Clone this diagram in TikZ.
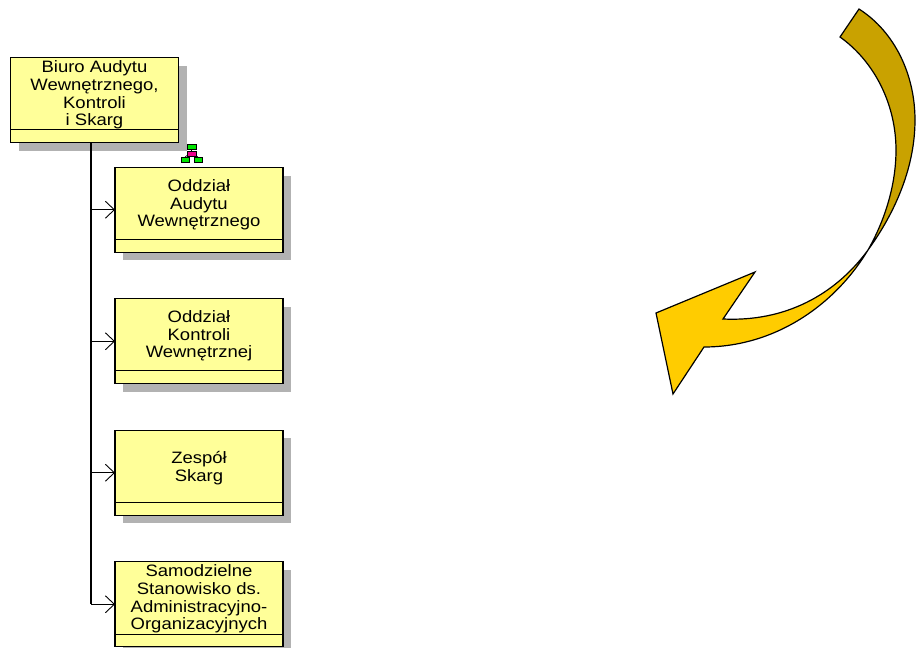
\documentclass[tikz,border=0pt]{standalone}
\usepackage{fontspec}
\setmainfont{Liberation Sans}
\newfontfamily\boxfont[FakeStretch=1.12]{Liberation Sans}
\usetikzlibrary{arrows.meta}
\tikzset{
  x=1pt,y=-1pt,
  orgbox/.style={draw=black,line width=1.4pt,fill=boxfill,minimum width=168pt,minimum height=85pt,inner sep=0pt,outer sep=0pt},
  divider/.style={draw=black,line width=0.9pt},
  boxtext/.style={align=center,font=\boxfont\fontsize{16.5}{17.6}\selectfont,inner sep=0pt,text=black},
  link/.style={draw=black,line width=1.1pt},
  trunk/.style={draw=black,line width=1.5pt},
  tip/.style={-{Straight Barb[length=9pt,width=17pt,line width=0.9pt]}},
  arrowshape/.style={draw=black,line width=1.2pt,line join=miter},
  iconbox/.style={draw=black,line width=0.4pt}
}
\definecolor{boxfill}{HTML}{FFFF99}
\definecolor{shadowgray}{HTML}{B2B2B2}
\definecolor{arrowdark}{HTML}{C9A200}
\definecolor{arrowlight}{HTML}{FFCC00}
\begin{document}
\begin{tikzpicture}
\useasboundingbox (0,0) rectangle (922,648);
% shadows
\fill[shadowgray] (19,66) rectangle (187,151);
\fill[shadowgray] (123,176) rectangle (291,260);
\fill[shadowgray] (123,307) rectangle (291,392);
\fill[shadowgray] (123,438) rectangle (291,523);
\fill[shadowgray] (123,570) rectangle (291,650);
% boxes
\node[orgbox] (b0) at (94.5,100) {};
\node[orgbox] (b1) at (199,209.75) {};
\node[orgbox] (b2) at (199,341.25) {};
\node[orgbox] (b3) at (199,472.75) {};
\node[orgbox] (b4) at (199,604.25) {};
% dividers
\coordinate (d0) at (0,129.5);
\coordinate (d1) at (0,239.5);
\coordinate (d2) at (0,370.5);
\coordinate (d3) at (0,502);
\coordinate (d4) at (0,634);
\draw[divider] (b0.west |- d0) -- (b0.east |- d0);
\draw[divider] (b1.west |- d1) -- (b1.east |- d1);
\draw[divider] (b2.west |- d2) -- (b2.east |- d2);
\draw[divider] (b3.west |- d3) -- (b3.east |- d3);
\draw[divider] (b4.west |- d4) -- (b4.east |- d4);
% texts
\node[boxtext] (t0) at (94.5,95) {Biuro Audytu\\Wewnętrznego,\\Kontroli\\i Skarg};
\node[boxtext] (t1) at (199,205) {Oddział\\Audytu\\Wewnętrznego};
\node[boxtext] (t2) at (199,336) {Oddział\\Kontroli\\Wewnętrznej};
\node[boxtext] (t3) at (199,468) {Zespół\\Skarg};
\node[boxtext] (t4) at (199,599) {Samodzielne\\Stanowisko ds.\\Administracyjno-\\Organizacyjnych};
% connectors
\coordinate (tr) at (91,0);
\draw[trunk] (b0.south -| tr) -- (tr |- b4.west);
\draw[link,tip] (tr |- b1.west) -- (b1.west);
\draw[link,tip] (tr |- b2.west) -- (b2.west);
\draw[link,tip] (tr |- b3.west) -- (b3.west);
\draw[link,tip] (tr |- b4.west) -- (b4.west);
% hierarchy icon
\draw[black,line width=0.6pt] (191.5,149) -- (191.5,151) (189,154) -- (185,157) (194,154) -- (198,157);
\filldraw[iconbox,fill=green!90!black] (187,144.5) rectangle (196,149.5);
\filldraw[iconbox,fill=magenta] (187,151) rectangle (196,156.5);
\filldraw[iconbox,fill=green!90!black] (181,157) rectangle (189,162.5);
\filldraw[iconbox,fill=green!90!black] (194.5,157) rectangle (202.5,162.5);
% curved arrow
\filldraw[arrowshape,fill=arrowdark] (859,9) .. controls (895,32) and (915,75) .. (915,120)
  .. controls (915,165) and (897,210) .. (868,250)
  .. controls (885,220) and (896,185) .. (896,150)
  .. controls (896,105) and (875,62) .. (840,37) -- cycle;
\filldraw[arrowshape,fill=arrowlight] (868,250) .. controls (835,305) and (775,347) .. (704,347)
  -- (673,394) -- (656,313) -- (755,272) -- (723,319)
  .. controls (785,322) and (835,295) .. (868,250) -- cycle;
\end{tikzpicture}
\end{document}
